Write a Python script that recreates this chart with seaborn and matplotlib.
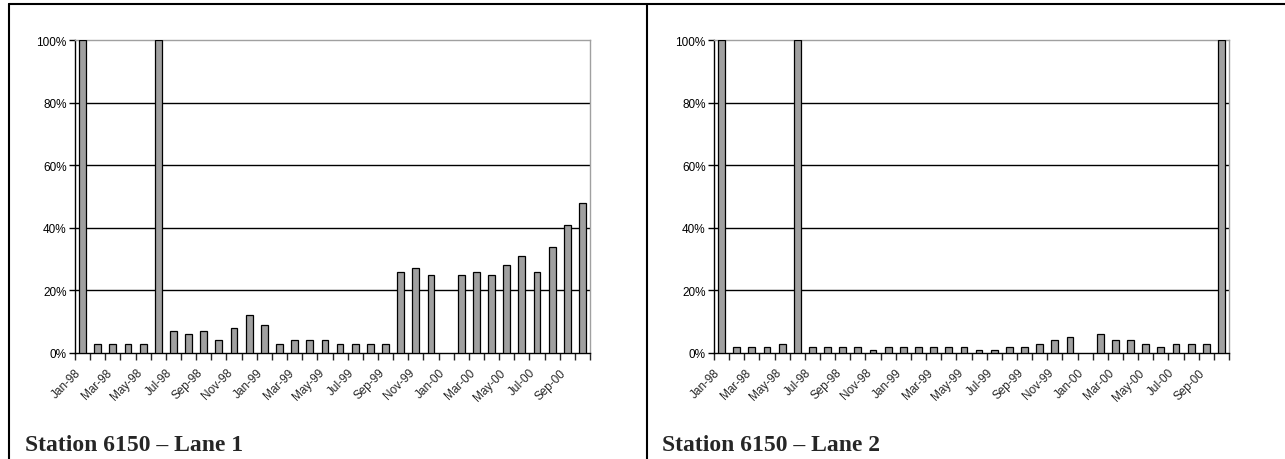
import numpy as np
import pandas as pd
import matplotlib
matplotlib.use("Agg")
import matplotlib.pyplot as plt
import matplotlib.transforms as mtransforms
from matplotlib.lines import Line2D
from matplotlib.ticker import FuncFormatter
import seaborn as sns

# Monthly categories Jan-98 .. Oct-00
months = ['Jan-98', 'Feb-98', 'Mar-98', 'Apr-98', 'May-98', 'Jun-98',
          'Jul-98', 'Aug-98', 'Sep-98', 'Oct-98', 'Nov-98', 'Dec-98',
          'Jan-99', 'Feb-99', 'Mar-99', 'Apr-99', 'May-99', 'Jun-99',
          'Jul-99', 'Aug-99', 'Sep-99', 'Oct-99', 'Nov-99', 'Dec-99',
          'Jan-00', 'Feb-00', 'Mar-00', 'Apr-00', 'May-00', 'Jun-00',
          'Jul-00', 'Aug-00', 'Sep-00', 'Oct-00']

# Percent values (None = no bar)
lane1 = [100, 3, 3, 3, 3, 100, 7, 6, 7, 4, 8, 12,
         9, 3, 4, 4, 4, 3, 3, 3, 3, 26, 27, 25,
         None, 25, 26, 25, 28, 31, 26, 34, 41, 48]
lane2 = [100, 2, 2, 2, 3, 100, 2, 2, 2, 2, 1, 2,
         2, 2, 2, 2, 2, 1, 1, 2, 2, 3, 4, 5,
         None, 6, 4, 4, 3, 2, 3, 3, 3, 100]

titles = ['Station 6150 \u2013 Lane 1', 'Station 6150 \u2013 Lane 2']

sns.set_style("white")
plt.rcParams['font.family'] = ['Liberation Sans', 'DejaVu Sans']

W, H = 1285, 460
fig = plt.figure(figsize=(W / 100, H / 100), dpi=100)


def px_axes(x0, y0, x1, y1):
    return fig.add_axes([x0 / W, 1 - y1 / H, (x1 - x0) / W, (y1 - y0) / H])


def draw_panel(ax, values, title, title_x):
    df = pd.DataFrame({'month': months,
                       'pct': [np.nan if v is None else v for v in values]})
    sns.barplot(data=df, x='month', y='pct', order=months, color='#a0a0a0',
                saturation=1, width=0.45, edgecolor='black', linewidth=0.9,
                ax=ax, zorder=3)
    n = len(months)
    ax.set_xlim(-0.5, n - 0.5)
    ax.set_ylim(0, 100)
    ax.set_xlabel('')
    ax.set_ylabel('')

    # horizontal grid
    for y in [20, 40, 60, 80]:
        ax.axhline(y, color='black', lw=1, zorder=1)

    # spines
    for s in ['top', 'right']:
        ax.spines[s].set_color('#a0a0a0')
        ax.spines[s].set_linewidth(1)
    for s in ['left', 'bottom']:
        ax.spines[s].set_color('black')
        ax.spines[s].set_linewidth(1)

    ax.set_yticks([0, 20, 40, 60, 80, 100])
    ax.yaxis.set_major_formatter(FuncFormatter(lambda v, p: f'{int(v)}%'))
    ax.tick_params(axis='y', direction='out', length=4, width=1,
                   labelsize=8.5, colors='black', pad=2, left=True)

    # x ticks between categories, labels on every other month
    ax.set_xticks(np.arange(-0.5, n, 1.0))
    ax.set_xticklabels([])
    ax.set_xticks(np.arange(0, n, 2), minor=True)
    ax.set_xticklabels(months[::2], minor=True, rotation=45, ha='right',
                       va='center', rotation_mode='anchor')
    ax.tick_params(axis='x', which='major', direction='out', length=5,
                   width=1, bottom=True)
    ax.tick_params(axis='x', which='minor', length=0, labelsize=8.5, pad=9)
    shift = mtransforms.ScaledTranslation(-0.03, -0.05, fig.dpi_scale_trans)
    for lab in ax.get_xticklabels(minor=True):
        lab.set_transform(lab.get_transform() + shift)

    fig.text(title_x / W, 1 - 446 / H, title, fontsize=17, fontweight='bold',
             family=['Liberation Serif', 'DejaVu Serif'], va='center',
             ha='left')


ax1 = px_axes(75, 41, 590, 354)
draw_panel(ax1, lane1, titles[0], 25)
ax2 = px_axes(714, 41, 1229, 354)
draw_panel(ax2, lane2, titles[1], 662)

# table borders
for line in [((9, W), (5, 5)), ((9, 9), (5, H)), ((647, 647), (5, H))]:
    xs = [x / W for x in line[0]]
    ys = [1 - y / H for y in line[1]]
    fig.add_artist(Line2D(xs, ys, color='black', lw=1.5))

fig.savefig('out.png', dpi=100)
